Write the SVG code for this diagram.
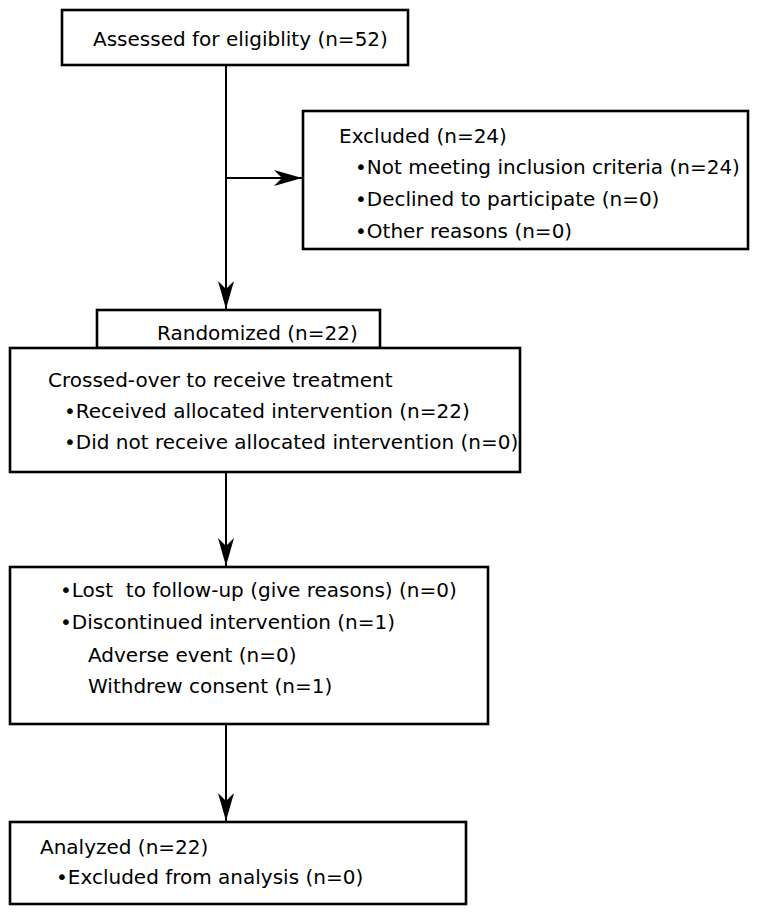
<svg xmlns="http://www.w3.org/2000/svg" width="758" height="915" viewBox="0 0 758 915">
<style>
.box{fill:#fff;stroke:#000;stroke-width:2.6}
.t{font-family:"DejaVu Sans",Verdana,sans-serif;font-size:20px;fill:#000;white-space:pre}
.c{stroke:#000;stroke-width:2;fill:none}
</style>
<defs>
<marker id="ah" viewBox="0 0 28 16" refX="28" refY="8" markerWidth="28" markerHeight="16" markerUnits="userSpaceOnUse" orient="auto">
<path d="M0,0 L28,8 L0,16 L8,8 Z" fill="#000"/>
</marker>
</defs>
<rect width="758" height="915" fill="#fff"/>
<g id="connectors">
<line class="c" x1="226" y1="65" x2="226" y2="309" marker-end="url(#ah)"/>
<line class="c" x1="226" y1="178" x2="302" y2="178" marker-end="url(#ah)"/>
<line class="c" x1="226" y1="472" x2="226" y2="566" marker-end="url(#ah)"/>
<line class="c" x1="226" y1="724" x2="226" y2="821" marker-end="url(#ah)"/>
</g>
<g id="assessed">
<rect class="box" x="62" y="10" width="346" height="55"/>
<text class="t" x="93" y="46">Assessed for eligiblity (n=52)</text>
</g>
<g id="excluded">
<rect class="box" x="303" y="111" width="445" height="138"/>
<text class="t" x="339" y="143">Excluded (n=24)</text>
<text class="t" x="355" y="174">•Not meeting inclusion criteria (n=24)</text>
<text class="t" x="355" y="206">•Declined to participate (n=0)</text>
<text class="t" x="355" y="238">•Other reasons (n=0)</text>
</g>
<g id="randomized">
<rect class="box" x="97" y="310" width="283" height="38"/>
<text class="t" x="157" y="340">Randomized (n=22)</text>
</g>
<g id="crossed">
<rect class="box" x="10" y="348" width="510" height="124"/>
<text class="t" x="48" y="387">Crossed-over to receive treatment</text>
<text class="t" x="64" y="418">•Received allocated intervention (n=22)</text>
<text class="t" x="64" y="449">•Did not receive allocated intervention (n=0)</text>
</g>
<g id="followup">
<rect class="box" x="10" y="567" width="478" height="157"/>
<text class="t" x="60" y="597" xml:space="preserve">•Lost  to follow-up (give reasons) (n=0)</text>
<text class="t" x="60" y="629">•Discontinued intervention (n=1)</text>
<text class="t" x="88" y="662">Adverse event (n=0)</text>
<text class="t" x="88" y="693">Withdrew consent (n=1)</text>
</g>
<g id="analyzed">
<rect class="box" x="10" y="822" width="456" height="82"/>
<text class="t" x="40" y="854">Analyzed (n=22)</text>
<text class="t" x="56" y="884">•Excluded from analysis (n=0)</text>
</g>
</svg>
